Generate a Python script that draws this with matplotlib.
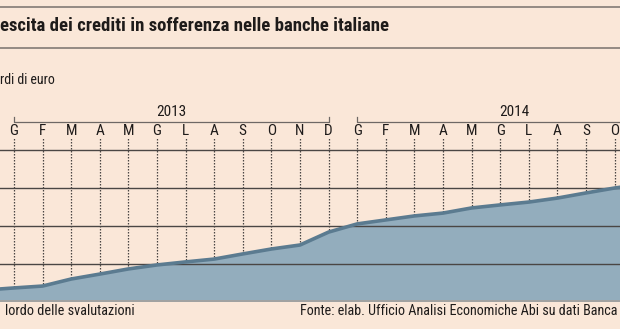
import matplotlib
matplotlib.use('Agg')
import matplotlib.pyplot as plt
from matplotlib.lines import Line2D

# --- dati (miliardi di euro) ---
MONTH_POS = list(range(-1, 23))  # -1 = dic 2012 ... 22 = nov 2014
SOFFERENZE = [126.3, 127.4, 128.4, 132.1, 134.7, 137.4, 139.5, 141.1, 142.6,
              145.3, 147.9, 150.0, 156.8, 161.1, 163.2, 165.3, 166.8, 169.5,
              171.1, 172.6, 174.7, 177.4, 180.0, 182.0]
MONTH_LABELS = list('GFMAMGLASOND') + list('GFMAMGLASO')
YEARS = ['2013', '2014']
YEAR_SPANS = [(0, 11), (12, 23)]
GRID_VALUES = [140, 160, 180, 200]

TITLE = "escita dei crediti in sofferenza nelle banche italiane"
UNIT = "rdi di euro"
NOTE = "lordo delle svalutazioni"
SOURCE = "Fonte: elab. Ufficio Analisi Economiche Abi su dati Banca"

# --- stile ---
BG = '#fae7d8'
FILL = '#93adbd'
LINE = '#5b7b90'
GRID = '#4a4644'
TXT = '#1e1b1a'
COND = ['Roboto Condensed', 'Liberation Sans Narrow', 'Lato', 'DejaVu Sans']

W, H = 620, 329
fig = plt.figure(figsize=(W / 100, H / 100), dpi=100, facecolor=BG)

# area del grafico: da y=138 px a y=302 px
y_top, y_base = 138, 302
ax = fig.add_axes([0, 1 - y_base / H, 1, (y_base - y_top) / H])
ax.set_facecolor(BG)
px = 28.6
ax.set_xlim(-14 / px, (W - 14) / px)
ax.set_ylim(120, 120 + (y_base - y_top) / 1.9)
for s in ax.spines.values():
    s.set_visible(False)
ax.set_xticks([])
ax.set_yticks([])

# linee verticali tratteggiate per ogni mese
for m in range(len(MONTH_LABELS)):
    ax.axvline(m, color=GRID, lw=0.9, ls=(0, (1.2, 1.2)), zorder=1)

ax.fill_between(MONTH_POS, 0, SOFFERENZE, color=FILL, lw=0, zorder=2)
for gv in GRID_VALUES:
    ax.axhline(gv, color=GRID, lw=1.0, zorder=3)
ax.axhline(120.3, color='#a5a09c', lw=1.2, zorder=3)
ax.plot(MONTH_POS, SOFFERENZE, color=LINE, lw=2.6, solid_joinstyle='round', zorder=4)

# etichette dei mesi e parentesi degli anni
tr = ax.get_xaxis_transform()
hpx = y_base - y_top
def frac(ypx):
    return (y_base - ypx) / hpx

for m, lab in enumerate(MONTH_LABELS):
    ax.text(m, frac(131), lab, transform=tr, ha='center', va='center',
            fontsize=11, color=TXT, family=COND, clip_on=False)

for yr, (a, b) in zip(YEARS, YEAR_SPANS):
    ax.plot([a, a, b, b], [frac(117), frac(122), frac(122), frac(117)],
            transform=tr, color='#6e6865', lw=0.9, clip_on=False)
    ax.text((a + b) / 2, frac(112), yr, transform=tr, ha='center', va='center',
            fontsize=11, color=TXT, family=COND, clip_on=False)

# testata
for ypx in (7, 48):
    fig.add_artist(Line2D([0, 1], [1 - ypx / H] * 2, transform=fig.transFigure,
                          color='#8c837d', lw=1.3))
fig.text(0, 1 - 26 / H, TITLE, ha='left', va='center', fontsize=13.5,
         fontweight='bold', color=TXT, family=COND)
fig.text(0, 1 - 80 / H, UNIT, ha='left', va='center', fontsize=10,
         color=TXT, family=COND)
fig.text(5 / W, 1 - 311 / H, NOTE, ha='left', va='center', fontsize=10.3,
         color=TXT, family=COND)
fig.text(300 / W, 1 - 311 / H, SOURCE, ha='left', va='center', fontsize=10.2,
         color=TXT, family=COND)

fig.savefig('out.png', dpi=100, facecolor=BG)
